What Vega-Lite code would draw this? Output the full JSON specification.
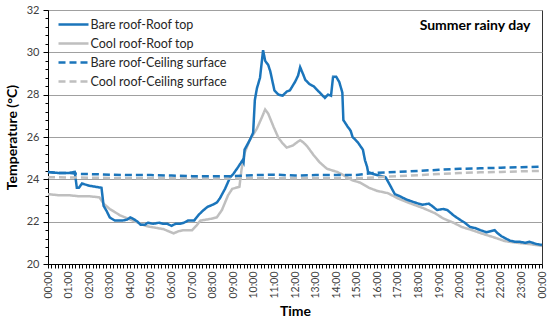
{
  "$schema": "https://vega.github.io/schema/vega-lite/v6.json",
  "width": 494,
  "height": 254,
  "autosize": {"type": "none"},
  "padding": {"left": 48, "top": 10, "right": 8, "bottom": 60},
  "background": "white",
  "config": {
    "font": "Lato",
    "view": {"stroke": "#333333", "strokeWidth": 1}
  },
  "title": {
    "text": "Summer rainy day",
    "anchor": "end",
    "orient": "top",
    "offset": -29,
    "dx": -17,
    "fontSize": 14,
    "fontWeight": "bold",
    "color": "#000000",
    "font": "Lato"
  },
  "data": {
    "values": [
      {"s": "Cool roof-Roof top", "t": 0, "v": 23.3},
      {"s": "Cool roof-Roof top", "t": 30, "v": 23.25},
      {"s": "Cool roof-Roof top", "t": 60, "v": 23.25},
      {"s": "Cool roof-Roof top", "t": 90, "v": 23.2},
      {"s": "Cool roof-Roof top", "t": 120, "v": 23.2},
      {"s": "Cool roof-Roof top", "t": 150, "v": 23.15},
      {"s": "Cool roof-Roof top", "t": 162, "v": 22.85},
      {"s": "Cool roof-Roof top", "t": 180, "v": 22.6},
      {"s": "Cool roof-Roof top", "t": 195, "v": 22.45},
      {"s": "Cool roof-Roof top", "t": 210, "v": 22.3},
      {"s": "Cool roof-Roof top", "t": 225, "v": 22.2},
      {"s": "Cool roof-Roof top", "t": 240, "v": 22.1},
      {"s": "Cool roof-Roof top", "t": 255, "v": 22.0},
      {"s": "Cool roof-Roof top", "t": 270, "v": 21.9},
      {"s": "Cool roof-Roof top", "t": 285, "v": 21.8},
      {"s": "Cool roof-Roof top", "t": 300, "v": 21.75},
      {"s": "Cool roof-Roof top", "t": 318, "v": 21.7},
      {"s": "Cool roof-Roof top", "t": 336, "v": 21.65},
      {"s": "Cool roof-Roof top", "t": 351, "v": 21.55},
      {"s": "Cool roof-Roof top", "t": 366, "v": 21.45},
      {"s": "Cool roof-Roof top", "t": 381, "v": 21.55},
      {"s": "Cool roof-Roof top", "t": 396, "v": 21.6},
      {"s": "Cool roof-Roof top", "t": 420, "v": 21.6},
      {"s": "Cool roof-Roof top", "t": 432, "v": 21.8},
      {"s": "Cool roof-Roof top", "t": 444, "v": 22.05},
      {"s": "Cool roof-Roof top", "t": 462, "v": 22.1},
      {"s": "Cool roof-Roof top", "t": 480, "v": 22.15},
      {"s": "Cool roof-Roof top", "t": 492, "v": 22.2},
      {"s": "Cool roof-Roof top", "t": 507, "v": 22.55},
      {"s": "Cool roof-Roof top", "t": 525, "v": 23.25},
      {"s": "Cool roof-Roof top", "t": 537, "v": 23.55},
      {"s": "Cool roof-Roof top", "t": 558, "v": 23.65},
      {"s": "Cool roof-Roof top", "t": 564, "v": 24.45},
      {"s": "Cool roof-Roof top", "t": 573, "v": 25.25},
      {"s": "Cool roof-Roof top", "t": 588, "v": 25.85},
      {"s": "Cool roof-Roof top", "t": 609, "v": 26.4},
      {"s": "Cool roof-Roof top", "t": 624, "v": 26.95},
      {"s": "Cool roof-Roof top", "t": 633, "v": 27.3},
      {"s": "Cool roof-Roof top", "t": 642, "v": 27.1},
      {"s": "Cool roof-Roof top", "t": 657, "v": 26.5},
      {"s": "Cool roof-Roof top", "t": 672, "v": 25.95},
      {"s": "Cool roof-Roof top", "t": 684, "v": 25.7},
      {"s": "Cool roof-Roof top", "t": 696, "v": 25.5},
      {"s": "Cool roof-Roof top", "t": 714, "v": 25.6},
      {"s": "Cool roof-Roof top", "t": 726, "v": 25.75},
      {"s": "Cool roof-Roof top", "t": 735, "v": 25.85},
      {"s": "Cool roof-Roof top", "t": 744, "v": 25.75},
      {"s": "Cool roof-Roof top", "t": 756, "v": 25.55},
      {"s": "Cool roof-Roof top", "t": 774, "v": 25.15},
      {"s": "Cool roof-Roof top", "t": 792, "v": 24.8},
      {"s": "Cool roof-Roof top", "t": 813, "v": 24.5},
      {"s": "Cool roof-Roof top", "t": 843, "v": 24.35},
      {"s": "Cool roof-Roof top", "t": 861, "v": 24.2},
      {"s": "Cool roof-Roof top", "t": 888, "v": 23.95},
      {"s": "Cool roof-Roof top", "t": 909, "v": 23.85},
      {"s": "Cool roof-Roof top", "t": 936, "v": 23.6},
      {"s": "Cool roof-Roof top", "t": 960, "v": 23.45},
      {"s": "Cool roof-Roof top", "t": 990, "v": 23.35},
      {"s": "Cool roof-Roof top", "t": 1020, "v": 23.1},
      {"s": "Cool roof-Roof top", "t": 1050, "v": 22.9},
      {"s": "Cool roof-Roof top", "t": 1092, "v": 22.65},
      {"s": "Cool roof-Roof top", "t": 1128, "v": 22.4},
      {"s": "Cool roof-Roof top", "t": 1152, "v": 22.15},
      {"s": "Cool roof-Roof top", "t": 1182, "v": 21.95},
      {"s": "Cool roof-Roof top", "t": 1206, "v": 21.75},
      {"s": "Cool roof-Roof top", "t": 1236, "v": 21.6},
      {"s": "Cool roof-Roof top", "t": 1266, "v": 21.43},
      {"s": "Cool roof-Roof top", "t": 1296, "v": 21.28},
      {"s": "Cool roof-Roof top", "t": 1332, "v": 21.08},
      {"s": "Cool roof-Roof top", "t": 1368, "v": 21.0},
      {"s": "Cool roof-Roof top", "t": 1398, "v": 20.95},
      {"s": "Cool roof-Roof top", "t": 1422, "v": 20.9},
      {"s": "Cool roof-Roof top", "t": 1440, "v": 20.85},

      {"s": "Bare roof-Roof top", "t": 0, "v": 24.35},
      {"s": "Bare roof-Roof top", "t": 30, "v": 24.3},
      {"s": "Bare roof-Roof top", "t": 60, "v": 24.3},
      {"s": "Bare roof-Roof top", "t": 78, "v": 24.35},
      {"s": "Bare roof-Roof top", "t": 84, "v": 23.6},
      {"s": "Bare roof-Roof top", "t": 90, "v": 23.6},
      {"s": "Bare roof-Roof top", "t": 99, "v": 23.8},
      {"s": "Bare roof-Roof top", "t": 120, "v": 23.7},
      {"s": "Bare roof-Roof top", "t": 138, "v": 23.65},
      {"s": "Bare roof-Roof top", "t": 156, "v": 23.6},
      {"s": "Bare roof-Roof top", "t": 162, "v": 22.75},
      {"s": "Bare roof-Roof top", "t": 171, "v": 22.5},
      {"s": "Bare roof-Roof top", "t": 180, "v": 22.2},
      {"s": "Bare roof-Roof top", "t": 195, "v": 22.05},
      {"s": "Bare roof-Roof top", "t": 216, "v": 22.05},
      {"s": "Bare roof-Roof top", "t": 231, "v": 22.1},
      {"s": "Bare roof-Roof top", "t": 240, "v": 22.2},
      {"s": "Bare roof-Roof top", "t": 252, "v": 22.1},
      {"s": "Bare roof-Roof top", "t": 261, "v": 22.0},
      {"s": "Bare roof-Roof top", "t": 270, "v": 21.85},
      {"s": "Bare roof-Roof top", "t": 282, "v": 21.85},
      {"s": "Bare roof-Roof top", "t": 291, "v": 21.95},
      {"s": "Bare roof-Roof top", "t": 306, "v": 21.9},
      {"s": "Bare roof-Roof top", "t": 324, "v": 21.95},
      {"s": "Bare roof-Roof top", "t": 336, "v": 21.9},
      {"s": "Bare roof-Roof top", "t": 348, "v": 21.9},
      {"s": "Bare roof-Roof top", "t": 360, "v": 21.8},
      {"s": "Bare roof-Roof top", "t": 372, "v": 21.9},
      {"s": "Bare roof-Roof top", "t": 384, "v": 21.9},
      {"s": "Bare roof-Roof top", "t": 396, "v": 21.95},
      {"s": "Bare roof-Roof top", "t": 408, "v": 22.05},
      {"s": "Bare roof-Roof top", "t": 426, "v": 22.05},
      {"s": "Bare roof-Roof top", "t": 438, "v": 22.3},
      {"s": "Bare roof-Roof top", "t": 450, "v": 22.5},
      {"s": "Bare roof-Roof top", "t": 465, "v": 22.7},
      {"s": "Bare roof-Roof top", "t": 480, "v": 22.8},
      {"s": "Bare roof-Roof top", "t": 492, "v": 22.9},
      {"s": "Bare roof-Roof top", "t": 501, "v": 23.1},
      {"s": "Bare roof-Roof top", "t": 516, "v": 23.55},
      {"s": "Bare roof-Roof top", "t": 531, "v": 24.1},
      {"s": "Bare roof-Roof top", "t": 540, "v": 24.25},
      {"s": "Bare roof-Roof top", "t": 555, "v": 24.6},
      {"s": "Bare roof-Roof top", "t": 567, "v": 24.9},
      {"s": "Bare roof-Roof top", "t": 570, "v": 24.8},
      {"s": "Bare roof-Roof top", "t": 573, "v": 25.4},
      {"s": "Bare roof-Roof top", "t": 588, "v": 25.85},
      {"s": "Bare roof-Roof top", "t": 598, "v": 26.2},
      {"s": "Bare roof-Roof top", "t": 603, "v": 27.75},
      {"s": "Bare roof-Roof top", "t": 609, "v": 28.3},
      {"s": "Bare roof-Roof top", "t": 618, "v": 28.8},
      {"s": "Bare roof-Roof top", "t": 627, "v": 30.1},
      {"s": "Bare roof-Roof top", "t": 633, "v": 29.6},
      {"s": "Bare roof-Roof top", "t": 642, "v": 29.4},
      {"s": "Bare roof-Roof top", "t": 648, "v": 29.1},
      {"s": "Bare roof-Roof top", "t": 660, "v": 28.2},
      {"s": "Bare roof-Roof top", "t": 672, "v": 28.0},
      {"s": "Bare roof-Roof top", "t": 684, "v": 27.95},
      {"s": "Bare roof-Roof top", "t": 696, "v": 28.15},
      {"s": "Bare roof-Roof top", "t": 705, "v": 28.2},
      {"s": "Bare roof-Roof top", "t": 720, "v": 28.6},
      {"s": "Bare roof-Roof top", "t": 729, "v": 28.9},
      {"s": "Bare roof-Roof top", "t": 735, "v": 29.3},
      {"s": "Bare roof-Roof top", "t": 744, "v": 28.95},
      {"s": "Bare roof-Roof top", "t": 750, "v": 28.7},
      {"s": "Bare roof-Roof top", "t": 762, "v": 28.5},
      {"s": "Bare roof-Roof top", "t": 774, "v": 28.4},
      {"s": "Bare roof-Roof top", "t": 786, "v": 28.2},
      {"s": "Bare roof-Roof top", "t": 798, "v": 28.0},
      {"s": "Bare roof-Roof top", "t": 807, "v": 27.85},
      {"s": "Bare roof-Roof top", "t": 816, "v": 28.0},
      {"s": "Bare roof-Roof top", "t": 825, "v": 27.95},
      {"s": "Bare roof-Roof top", "t": 831, "v": 28.85},
      {"s": "Bare roof-Roof top", "t": 840, "v": 28.85},
      {"s": "Bare roof-Roof top", "t": 849, "v": 28.6},
      {"s": "Bare roof-Roof top", "t": 858, "v": 28.1},
      {"s": "Bare roof-Roof top", "t": 861, "v": 26.8},
      {"s": "Bare roof-Roof top", "t": 873, "v": 26.5},
      {"s": "Bare roof-Roof top", "t": 882, "v": 26.3},
      {"s": "Bare roof-Roof top", "t": 888, "v": 26.0},
      {"s": "Bare roof-Roof top", "t": 903, "v": 25.75},
      {"s": "Bare roof-Roof top", "t": 918, "v": 25.4},
      {"s": "Bare roof-Roof top", "t": 924, "v": 24.9},
      {"s": "Bare roof-Roof top", "t": 930, "v": 24.6},
      {"s": "Bare roof-Roof top", "t": 933, "v": 24.35},
      {"s": "Bare roof-Roof top", "t": 948, "v": 24.25},
      {"s": "Bare roof-Roof top", "t": 960, "v": 24.2},
      {"s": "Bare roof-Roof top", "t": 984, "v": 24.1},
      {"s": "Bare roof-Roof top", "t": 996, "v": 23.75},
      {"s": "Bare roof-Roof top", "t": 1011, "v": 23.3},
      {"s": "Bare roof-Roof top", "t": 1026, "v": 23.2},
      {"s": "Bare roof-Roof top", "t": 1044, "v": 23.05},
      {"s": "Bare roof-Roof top", "t": 1062, "v": 22.95},
      {"s": "Bare roof-Roof top", "t": 1080, "v": 22.85},
      {"s": "Bare roof-Roof top", "t": 1092, "v": 22.8},
      {"s": "Bare roof-Roof top", "t": 1110, "v": 22.85},
      {"s": "Bare roof-Roof top", "t": 1119, "v": 22.75},
      {"s": "Bare roof-Roof top", "t": 1134, "v": 22.55},
      {"s": "Bare roof-Roof top", "t": 1152, "v": 22.6},
      {"s": "Bare roof-Roof top", "t": 1164, "v": 22.55},
      {"s": "Bare roof-Roof top", "t": 1182, "v": 22.3},
      {"s": "Bare roof-Roof top", "t": 1200, "v": 22.1},
      {"s": "Bare roof-Roof top", "t": 1215, "v": 21.95},
      {"s": "Bare roof-Roof top", "t": 1230, "v": 21.75},
      {"s": "Bare roof-Roof top", "t": 1245, "v": 21.7},
      {"s": "Bare roof-Roof top", "t": 1260, "v": 21.6},
      {"s": "Bare roof-Roof top", "t": 1278, "v": 21.5},
      {"s": "Bare roof-Roof top", "t": 1290, "v": 21.55},
      {"s": "Bare roof-Roof top", "t": 1302, "v": 21.6},
      {"s": "Bare roof-Roof top", "t": 1311, "v": 21.45},
      {"s": "Bare roof-Roof top", "t": 1323, "v": 21.3},
      {"s": "Bare roof-Roof top", "t": 1335, "v": 21.2},
      {"s": "Bare roof-Roof top", "t": 1347, "v": 21.1},
      {"s": "Bare roof-Roof top", "t": 1362, "v": 21.05},
      {"s": "Bare roof-Roof top", "t": 1374, "v": 21.05},
      {"s": "Bare roof-Roof top", "t": 1392, "v": 21.0},
      {"s": "Bare roof-Roof top", "t": 1404, "v": 21.05},
      {"s": "Bare roof-Roof top", "t": 1422, "v": 20.95},
      {"s": "Bare roof-Roof top", "t": 1440, "v": 20.9},

      {"s": "Cool roof-Ceiling surface", "t": 0, "v": 24.1},
      {"s": "Cool roof-Ceiling surface", "t": 120, "v": 24.08},
      {"s": "Cool roof-Ceiling surface", "t": 240, "v": 24.05},
      {"s": "Cool roof-Ceiling surface", "t": 360, "v": 24.05},
      {"s": "Cool roof-Ceiling surface", "t": 480, "v": 24.03},
      {"s": "Cool roof-Ceiling surface", "t": 600, "v": 24.05},
      {"s": "Cool roof-Ceiling surface", "t": 720, "v": 24.05},
      {"s": "Cool roof-Ceiling surface", "t": 840, "v": 24.05},
      {"s": "Cool roof-Ceiling surface", "t": 900, "v": 24.05},
      {"s": "Cool roof-Ceiling surface", "t": 960, "v": 24.1},
      {"s": "Cool roof-Ceiling surface", "t": 1020, "v": 24.15},
      {"s": "Cool roof-Ceiling surface", "t": 1080, "v": 24.2},
      {"s": "Cool roof-Ceiling surface", "t": 1140, "v": 24.25},
      {"s": "Cool roof-Ceiling surface", "t": 1200, "v": 24.3},
      {"s": "Cool roof-Ceiling surface", "t": 1260, "v": 24.33},
      {"s": "Cool roof-Ceiling surface", "t": 1320, "v": 24.35},
      {"s": "Cool roof-Ceiling surface", "t": 1380, "v": 24.38},
      {"s": "Cool roof-Ceiling surface", "t": 1440, "v": 24.4},

      {"s": "Bare roof-Ceiling surface", "t": 0, "v": 24.35},
      {"s": "Bare roof-Ceiling surface", "t": 30, "v": 24.3},
      {"s": "Bare roof-Ceiling surface", "t": 60, "v": 24.3},
      {"s": "Bare roof-Ceiling surface", "t": 90, "v": 24.25},
      {"s": "Bare roof-Ceiling surface", "t": 120, "v": 24.25},
      {"s": "Bare roof-Ceiling surface", "t": 180, "v": 24.22},
      {"s": "Bare roof-Ceiling surface", "t": 240, "v": 24.2},
      {"s": "Bare roof-Ceiling surface", "t": 300, "v": 24.2},
      {"s": "Bare roof-Ceiling surface", "t": 360, "v": 24.18},
      {"s": "Bare roof-Ceiling surface", "t": 420, "v": 24.15},
      {"s": "Bare roof-Ceiling surface", "t": 480, "v": 24.15},
      {"s": "Bare roof-Ceiling surface", "t": 540, "v": 24.15},
      {"s": "Bare roof-Ceiling surface", "t": 600, "v": 24.2},
      {"s": "Bare roof-Ceiling surface", "t": 660, "v": 24.22},
      {"s": "Bare roof-Ceiling surface", "t": 720, "v": 24.18},
      {"s": "Bare roof-Ceiling surface", "t": 780, "v": 24.2},
      {"s": "Bare roof-Ceiling surface", "t": 840, "v": 24.2},
      {"s": "Bare roof-Ceiling surface", "t": 900, "v": 24.2},
      {"s": "Bare roof-Ceiling surface", "t": 948, "v": 24.3},
      {"s": "Bare roof-Ceiling surface", "t": 1020, "v": 24.35},
      {"s": "Bare roof-Ceiling surface", "t": 1080, "v": 24.4},
      {"s": "Bare roof-Ceiling surface", "t": 1140, "v": 24.45},
      {"s": "Bare roof-Ceiling surface", "t": 1200, "v": 24.5},
      {"s": "Bare roof-Ceiling surface", "t": 1260, "v": 24.52},
      {"s": "Bare roof-Ceiling surface", "t": 1320, "v": 24.55},
      {"s": "Bare roof-Ceiling surface", "t": 1380, "v": 24.57},
      {"s": "Bare roof-Ceiling surface", "t": 1440, "v": 24.6}
    ]
  },
  "mark": {"type": "line", "strokeWidth": 2.5, "interpolate": "linear"},
  "encoding": {
    "x": {
      "field": "t",
      "type": "quantitative",
      "scale": {"domain": [0, 1440], "nice": false, "zero": false},
      "axis": {
        "title": "Time",
        "titleFontSize": 14,
        "titleFontWeight": "bold",
        "titleColor": "#000000",
        "titlePadding": 7,
        "tickCount": 144,
        "labelExpr": "datum.value % 60 === 0 ? ((datum.value / 60) % 24 < 10 ? '0' : '') + ((datum.value / 60) % 24) + ':00' : ''",
        "labelAngle": -90,
        "labelFontSize": 10.5,
        "labelColor": "#404040",
        "labelOverlap": false,
        "labelFlush": false,
        "labelPadding": 3,
        "grid": false,
        "tickSize": 4,
        "tickColor": "#000000",
        "domainColor": "#000000"
      }
    },
    "y": {
      "field": "v",
      "type": "quantitative",
      "scale": {"domain": [20, 32], "nice": false, "zero": false},
      "axis": {
        "title": "Temperature (°C)",
        "titleFontSize": 14,
        "titleFontWeight": "bold",
        "titleColor": "#000000",
        "titlePadding": 7,
        "values": [20, 20.4, 20.8, 21.2, 21.6, 22, 22.4, 22.8, 23.2, 23.6, 24, 24.4, 24.8, 25.2, 25.6, 26, 26.4, 26.8, 27.2, 27.6, 28, 28.4, 28.8, 29.2, 29.6, 30, 30.4, 30.8, 31.2, 31.6, 32],
        "labelExpr": "datum.value % 2 === 0 ? datum.value : ''",
        "labelFontSize": 11,
        "labelColor": "#404040",
        "labelOverlap": false,
        "labelPadding": 4,
        "grid": true,
        "gridColor": "#a0a0a0",
        "gridWidth": 1,
        "gridOpacity": {"condition": {"test": "datum.value % 2 === 0", "value": 1}, "value": 0},
        "tickSize": {"condition": {"test": "datum.value % 2 === 0", "value": 5}, "value": 3},
        "tickColor": "#000000",
        "domainColor": "#000000"
      }
    },
    "color": {
      "field": "s",
      "type": "nominal",
      "scale": {
        "domain": ["Bare roof-Roof top", "Cool roof-Roof top", "Bare roof-Ceiling surface", "Cool roof-Ceiling surface"],
        "range": ["#1b75bb", "#bfbfbf", "#1b75bb", "#bfbfbf"]
      },
      "legend": {
        "title": null,
        "orient": "none",
        "legendX": 16.5,
        "legendY": 5.5,
        "padding": 0,
        "symbolType": "M-2,0h4",
        "symbolSize": 225,
        "symbolStrokeWidth": 2.5,
        "labelOffset": 8,
        "rowPadding": 3,
        "labelFontSize": 12.5,
        "labelColor": "#262626",
        "labelFont": "Lato"
      }
    },
    "strokeDash": {
      "field": "s",
      "type": "nominal",
      "scale": {
        "domain": ["Bare roof-Roof top", "Cool roof-Roof top", "Bare roof-Ceiling surface", "Cool roof-Ceiling surface"],
        "range": [[1, 0], [1, 0], [7, 4], [7, 4]]
      },
      "legend": {
        "title": null,
        "orient": "none",
        "legendX": 16.5,
        "legendY": 5.5,
        "padding": 0,
        "symbolType": "M-2,0h4",
        "symbolSize": 225,
        "symbolStrokeWidth": 2.5,
        "labelOffset": 8,
        "rowPadding": 3,
        "labelFontSize": 12.5,
        "labelColor": "#262626",
        "labelFont": "Lato"
      }
    }
  }
}
